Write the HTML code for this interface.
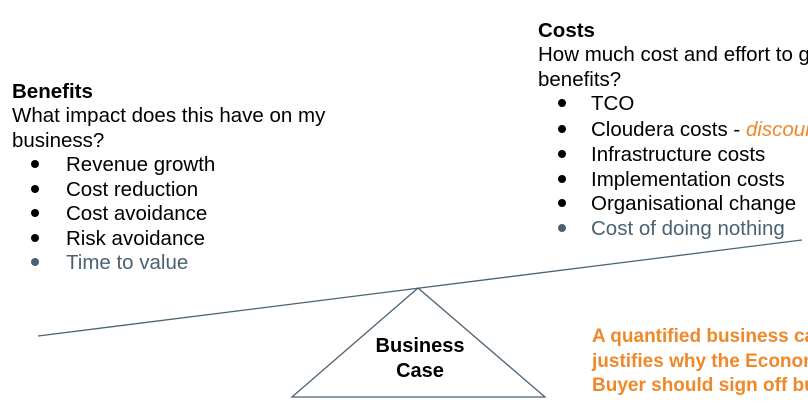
<!DOCTYPE html>
<html><head><meta charset="utf-8"><style>
html,body{margin:0;padding:0;background:#fff;overflow:hidden;}
body{width:808px;height:404px;position:relative;overflow:hidden;font-family:"Liberation Sans",sans-serif;}
.clip{position:absolute;left:0;top:0;width:808px;height:404px;overflow:hidden;}
.t{position:absolute;font-size:20.5px;line-height:24.5px;color:#000;white-space:nowrap;}
.b{font-weight:bold;}
.g{color:#4a6272;}
.o{color:#f0882a;}
.dot{position:absolute;width:8px;height:8px;border-radius:50%;background:#000;}
.dot.g{background:#4a6272;}
</style></head><body><div class="clip">
<svg width="808" height="404" style="position:absolute;left:0;top:0">
<line x1="38" y1="336" x2="802" y2="240" stroke="#4a6272" stroke-width="1.3"/>
<polygon points="418,288 292,397 545,397" fill="none" stroke="#4a6272" stroke-width="1.3"/>
</svg>
<div class="t b" style="left:12px;top:80px">Benefits</div>
<div class="t" style="left:12px;top:104px">What impact does this have on my</div>
<div class="t" style="left:12px;top:129px">business?</div>
<div class="dot" style="left:31px;top:160px"></div><div class="t" style="left:66px;top:153px">Revenue growth</div>
<div class="dot" style="left:31px;top:185px"></div><div class="t" style="left:66px;top:178px">Cost reduction</div>
<div class="dot" style="left:31px;top:209px"></div><div class="t" style="left:66px;top:202px">Cost avoidance</div>
<div class="dot" style="left:31px;top:234px"></div><div class="t" style="left:66px;top:227px">Risk avoidance</div>
<div class="dot g" style="left:31px;top:258px"></div><div class="t g" style="left:66px;top:251px">Time to value</div>

<div class="t b" style="left:538px;top:19px">Costs</div>
<div class="t" style="left:538px;top:43px">How much cost and effort to get</div>
<div class="t" style="left:538px;top:68px">benefits?</div>
<div class="dot" style="left:558px;top:99px"></div><div class="t" style="left:591px;top:92px">TCO</div>
<div class="dot" style="left:558px;top:125px"></div><div class="t" style="left:591px;top:118px">Cloudera costs - <i class="o">discounts</i></div>
<div class="dot" style="left:558px;top:150px"></div><div class="t" style="left:591px;top:143px">Infrastructure costs</div>
<div class="dot" style="left:558px;top:175px"></div><div class="t" style="left:591px;top:168px">Implementation costs</div>
<div class="dot" style="left:558px;top:199px"></div><div class="t" style="left:591px;top:192px">Organisational change</div>
<div class="dot g" style="left:558px;top:224px"></div><div class="t g" style="left:591px;top:217px">Cost of doing nothing</div>

<div class="t b" style="left:340px;top:334px;width:160px;text-align:center;line-height:25px;font-size:20px">Business<br>Case</div>
<div class="t b o" style="left:592px;top:325px;font-size:19px;line-height:24.5px">A quantified business case<br>justifies why the Economic<br>Buyer should sign off budget</div>
</div></body></html>
